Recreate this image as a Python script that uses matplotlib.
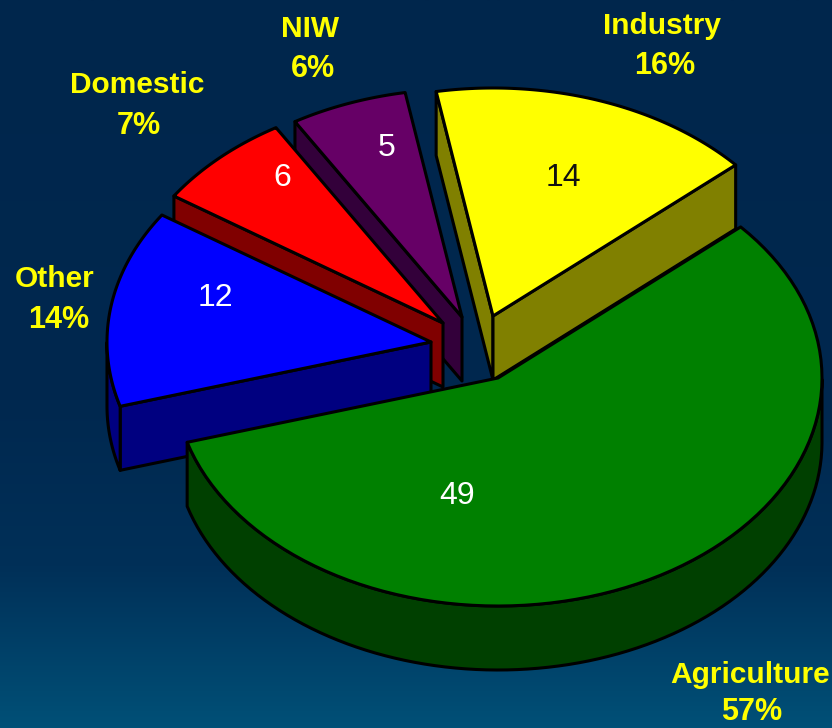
import numpy as np
import matplotlib
matplotlib.use("Agg")
import matplotlib.pyplot as plt
from matplotlib.patches import Polygon
from matplotlib.colors import LinearSegmentedColormap

# Data
categories = ["Agriculture", "Other", "Domestic", "NIW", "Industry"]
values = [49, 12, 6, 5, 14]
percent_labels = ["57%", "14%", "7%", "6%", "16%"]

# Style
top_colors = ["#008000", "#0000FF", "#FF0000", "#660066", "#FFFF00"]
side_colors = ["#004000", "#000080", "#800000", "#33003A", "#808000"]
value_colors = ["white", "white", "white", "white", "#111111"]

# Layout (pixel space of the 832x728 canvas)
centers = [(498, 378), (431, 342), (443, 323), (462, 317), (493, 316)]
value_pos = [(457, 496), (215, 298), (282, 178), (387, 148), (563, 178)]
label_pos = [(750, 675), (55, 279), (137, 85), (310, 29), (662, 26)]
percent_pos = [(752, 712), (59, 320), (139, 126), (313, 69), (665, 66)]
RX, RY, DEPTH = 324, 228, 64
START_ANGLE = 41.5
draw_order = [4, 3, 2, 1, 0]

fig = plt.figure(figsize=(8.32, 7.28), dpi=100)
ax = fig.add_axes([0, 0, 1, 1])
ax.set_xlim(0, 832)
ax.set_ylim(728, 0)
ax.axis("off")

bg = LinearSegmentedColormap.from_list(
    "bg", [(0, "#00264C"), (0.55, "#00284F"), (0.78, "#003058"), (1, "#005077")])
ax.imshow(np.linspace(0, 1, 256).reshape(-1, 1), cmap=bg, aspect="auto",
          extent=(0, 832, 728, 0), zorder=0)

# Angles of each slice, clockwise from the start angle
sweeps = np.array(values) / sum(values) * 360
starts = START_ANGLE - np.concatenate([[0], np.cumsum(sweeps)[:-1]])
ends = starts - sweeps


def arc(c, a, b, n=90, dy=0):
    t = np.radians(np.linspace(a, b, n))
    return np.column_stack([c[0] + RX * np.cos(t), c[1] - RY * np.sin(t) + dy])


LW = 2.2
for i in draw_order:
    c, a, b = centers[i], starts[i], ends[i]
    edge = dict(edgecolor="black", linewidth=LW, joinstyle="round")
    z = 2 + draw_order.index(i)
    # cut faces: drawn when they face the viewer
    for ang, sign in ((a, 1), (b, -1)):
        p = arc(c, ang, ang, 1)[0]
        dx, dyy = p[0] - c[0], p[1] - c[1]
        nx, ny = (dyy, -dx) if sign > 0 else (-dyy, dx)
        if ny > 0:
            q = [c, p, (p[0], p[1] + DEPTH), (c[0], c[1] + DEPTH)]
            ax.add_patch(Polygon(q, closed=True, facecolor=side_colors[i], zorder=z, **edge))
    # outer rim: the front half of the arc
    ts = np.linspace(a, b, 300)
    vis = ts[np.sin(np.radians(ts)) <= 0]
    if len(vis) > 1:
        top = arc(c, vis[0], vis[-1])
        bot = arc(c, vis[-1], vis[0], dy=DEPTH)
        ax.add_patch(Polygon(np.vstack([top, bot]), closed=True,
                             facecolor=side_colors[i], zorder=z, **edge))
    # top surface
    ax.add_patch(Polygon(np.vstack([[c], arc(c, a, b)]), closed=True,
                         facecolor=top_colors[i], zorder=z, **edge))

font = ["Liberation Sans", "DejaVu Sans"]
for i in range(len(values)):
    ax.text(*value_pos[i], str(values[i]), color=value_colors[i], fontsize=23,
            family=font, ha="center", va="center", zorder=20)
    ax.text(*label_pos[i], categories[i], color="#FFFF00", fontsize=21.5, weight="bold",
            family=font, ha="center", va="center", zorder=20)
    ax.text(*percent_pos[i], percent_labels[i], color="#FFFF00", fontsize=22, weight="bold",
            family=font, ha="center", va="center", zorder=20)

fig.savefig("out.png", dpi=100)
